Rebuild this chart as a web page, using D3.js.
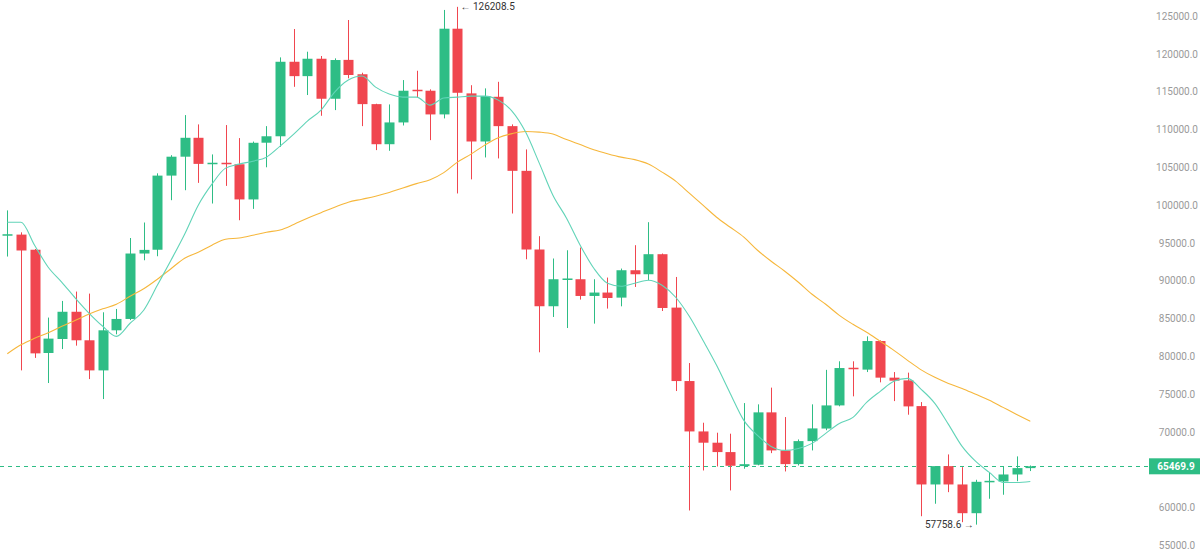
<!DOCTYPE html>
<html>
<head>
<meta charset="utf-8">
<script src="https://cdn.jsdelivr.net/npm/d3@7"></script>
<style>
  html, body { margin: 0; padding: 0; background: #ffffff; }
  svg { display: block; font-family: Roboto, "Liberation Sans", Arial, sans-serif; }
</style>
</head>
<body>
<svg id="chart" width="1200" height="552"></svg>
<script>
// Weekly candles (week start dates)
const categories = [
  "2025-02-17","2025-02-24","2025-03-03","2025-03-10","2025-03-17","2025-03-24","2025-03-31",
  "2025-04-07","2025-04-14","2025-04-21","2025-04-28","2025-05-05","2025-05-12","2025-05-19",
  "2025-05-26","2025-06-02","2025-06-09","2025-06-16","2025-06-23","2025-06-30","2025-07-07",
  "2025-07-14","2025-07-21","2025-07-28","2025-08-04","2025-08-11","2025-08-18","2025-08-25",
  "2025-09-01","2025-09-08","2025-09-15","2025-09-22","2025-09-29","2025-10-06","2025-10-13",
  "2025-10-20","2025-10-27","2025-11-03","2025-11-10","2025-11-17","2025-11-24","2025-12-01",
  "2025-12-08","2025-12-15","2025-12-22","2025-12-29","2026-01-05","2026-01-12","2026-01-19",
  "2026-01-26","2026-02-02","2026-02-09","2026-02-16","2026-02-23","2026-03-02","2026-03-09",
  "2026-03-16","2026-03-23","2026-03-30","2026-04-06","2026-04-13","2026-04-20","2026-04-27",
  "2026-05-04","2026-05-11","2026-05-18","2026-05-25","2026-06-01","2026-06-08","2026-06-15",
  "2026-06-22","2026-06-29","2026-07-06","2026-07-13","2026-07-20","2026-07-27"
];
const openValues = [
  96000,96100,94100,80450,82300,85900,82130,78150,83450,84950,93600,94100,103900,106400,
  108900,105450,105600,105400,100750,108250,109100,118950,117050,119350,114060,119200,117300,113350,
  108050,110930,115250,115120,111990,123320,114770,108410,114320,110440,104530,94130,86630,90100,
  90200,87990,88440,87770,91390,90860,93510,86450,76740,70080,68590,67350,65500,65680,
  72600,67570,65760,68800,70460,73520,78500,78250,82030,77190,76830,73430,63070,65490,
  63070,59270,63420,63470,64390,65230
];
const highValues = [
  99300,96400,94200,85130,87330,88570,88300,85830,86270,95650,97700,104200,106600,111900,
  110670,106700,110580,108860,108400,110440,119530,123280,120280,119710,119400,124470,117500,113400,
  113310,116530,117760,115300,125800,126208.5,115850,115430,116300,110670,107360,95890,92940,94030,
  94390,90200,90420,91610,94700,97740,93600,90500,79120,71230,69910,69780,73830,73660,
  75870,71980,69020,73660,78220,79350,79350,82650,82120,77930,77850,73960,65490,67040,
  65360,63690,64700,65450,66780,65580
];
const lowValues = [
  93200,78150,79800,76480,80970,81420,77000,74360,82920,84800,92710,93240,100650,101970,
  102940,100210,102540,98000,99500,105000,107700,115640,114550,111810,112560,116760,110440,107270,
  107180,110530,114240,108590,111460,101540,103400,106300,106170,98890,92840,80540,85210,83750,
  87510,84330,86320,86620,89180,90070,86000,75420,59630,64920,65450,62280,65150,65600,
  67210,64790,65580,67570,70240,73400,74720,77930,76570,74090,72290,58870,60520,62050,
  58080,57758.6,61180,61710,63500,64840
];
const closeValues = [
  96150,94000,80400,82350,85900,82130,78150,83450,84950,93600,94080,103900,106400,108900,
  105450,105600,105400,100750,108240,109100,118950,117050,119350,114060,119180,117200,113350,108050,
  110930,115120,115100,111990,123320,114850,108410,114410,110440,104530,94130,86630,90200,90300,
  87990,88440,87720,91390,90860,93510,86400,76740,70080,68590,67350,65540,65750,72600,
  67570,65760,68800,70480,73520,78460,78300,82030,77190,76790,73390,63070,65490,63070,
  59270,63420,63550,64390,65230,65469.9
];
// Short moving average (teal) and long moving average (orange)
const maShort = [
  97740,97740,94700,91790,89800,87680,85700,83980,82650,84380,86100,89400,92710,96150,
  99990,102770,104890,105420,105810,106340,107800,109390,111110,112560,114940,116530,117060,115600,
  114680,114280,114280,113220,114150,114280,114410,114410,113880,112430,109650,105550,101310,98270,
  94700,91650,89670,89270,89670,90060,89400,87820,85300,82130,78820,75110,71540,69550,
  68100,67570,67830,68500,69820,71140,71940,73920,75380,76700,77100,75640,73790,71010,
  68100,66110,64660,63330,63330,63470
];
const maLong = [
  80350,81530,82390,83120,83980,84770,85600,86290,86890,87950,88940,90200,91590,92980,
  93770,94700,95490,95660,96020,96420,96710,97440,98270,99000,99730,100390,100780,101180,
  101670,102270,102840,103350,104290,105680,106740,107930,108920,109450,109740,109650,109390,108660,
  108000,107330,106800,106340,106010,105420,104360,103170,101580,99990,98400,97080,95760,94030,
  92580,91260,89800,88210,86890,85430,84240,83180,81990,80800,79480,78220,77230,76430,
  75770,74980,74190,73260,72330,71410
];
// 65000.0 is covered by the last-price tag in the reference, so it is not listed
const yTicks = [55000,60000,70000,75000,80000,85000,90000,95000,100000,105000,110000,115000,120000,125000];
const lastPrice = 65469.9;
const maxHigh = 126208.5;
const minLow = 57758.6;

const GREEN = "#2ebd85", RED = "#f0464f", TEAL = "#62d4b8", ORANGE = "#f6b73c";

const data = categories.map((c, i) => ({
  cat: c, o: openValues[i], h: highValues[i], l: lowValues[i], c: closeValues[i]
}));

const svg = d3.select("#chart");
const x = d3.scalePoint().domain(categories).range([7.3, 1030.3]);
const y = d3.scaleLinear().domain([55000, 125000]).range([545.5, 16]);
const bodyW = 10;

// y axis labels
const axis = d3.axisRight(y).tickValues(yTicks).tickSize(0).tickPadding(0)
  .tickFormat(d => d.toFixed(1));
const gAxis = svg.append("g").attr("transform", "translate(1177,0)").call(axis);
gAxis.select(".domain").remove();
gAxis.selectAll("text").attr("text-anchor", "middle").attr("x", 0)
  .attr("fill", "#9a9a9a").style("font-size", "10px").style("font-family", "Roboto, sans-serif");

// last price dashed line
svg.append("line")
  .attr("x1", 0).attr("x2", 1149)
  .attr("y1", Math.round(y(lastPrice)) + 0.5).attr("y2", Math.round(y(lastPrice)) + 0.5)
  .attr("stroke", GREEN).attr("stroke-width", 1).attr("stroke-dasharray", "4,4");

// candles
const g = svg.append("g");
const cs = g.selectAll("g.candle").data(data).join("g").attr("class", "candle");
cs.append("line")
  .attr("x1", d => Math.round(x(d.cat)) + 0.5).attr("x2", d => Math.round(x(d.cat)) + 0.5)
  .attr("y1", d => y(d.h)).attr("y2", d => y(d.l))
  .attr("stroke", d => d.c >= d.o ? GREEN : RED).attr("stroke-width", 1);
cs.append("rect")
  .attr("x", d => Math.round(x(d.cat)) + 0.5 - bodyW / 2)
  .attr("width", bodyW)
  .attr("y", d => y(Math.max(d.o, d.c)))
  .attr("height", d => Math.max(1.5, Math.abs(y(d.o) - y(d.c))))
  .attr("fill", d => d.c >= d.o ? GREEN : RED);

// moving averages
const line = arr => d3.line().x((d, i) => x(categories[i])).y(d => y(d)).curve(d3.curveMonotoneX)(arr);
svg.append("path").attr("d", line(maLong)).attr("fill", "none").attr("stroke", ORANGE).attr("stroke-width", 1.1);
svg.append("path").attr("d", line(maShort)).attr("fill", "none").attr("stroke", TEAL).attr("stroke-width", 1.1);

// high / low annotations
const iHigh = highValues.indexOf(maxHigh);
const iLow = lowValues.indexOf(minLow);
svg.append("text")
  .attr("x", x(categories[iHigh]) + 3).attr("y", y(maxHigh) + 3.5)
  .attr("fill", "#333").style("font-size", "10px")
  .text("\u2190 " + maxHigh.toFixed(1));
svg.append("text")
  .attr("x", x(categories[iLow]) - 2).attr("y", y(minLow) + 3.5)
  .attr("text-anchor", "end")
  .attr("fill", "#333").style("font-size", "10px")
  .text(minLow.toFixed(1) + " \u2192");

// last price label
const ly = y(lastPrice);
svg.append("rect").attr("x", 1149).attr("y", ly - 8).attr("width", 51).attr("height", 16).attr("fill", GREEN);
svg.append("text").attr("x", 1176).attr("y", ly + 3.5).attr("text-anchor", "middle")
  .attr("fill", "#fff").style("font-size", "10px").style("font-weight", "bold")
  .text(lastPrice.toFixed(1));
</script>
</body>
</html>
